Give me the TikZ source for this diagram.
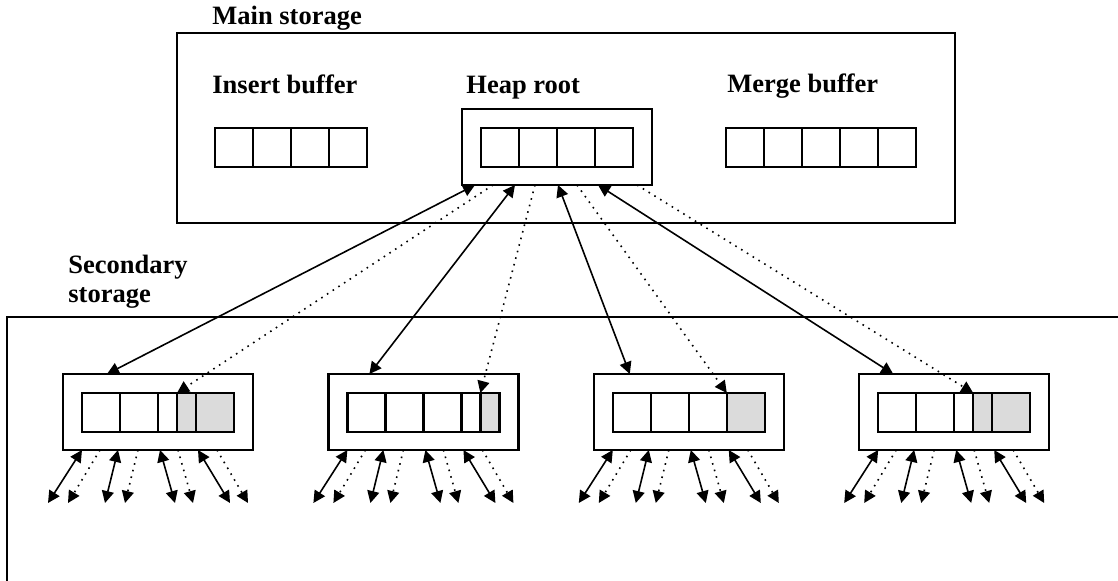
\documentclass[tikz,border=0pt]{standalone}
\usepackage{fontspec}
\setmainfont{Liberation Serif}
\usetikzlibrary{arrows.meta,calc,positioning}

\tikzset{
  store/.style={draw,line width=1.1pt,inner sep=0pt,outer sep=0pt},
  page/.style={store,minimum width=95pt,minimum height=38pt},
  slot/.style={store,anchor=north west,minimum width=19pt,minimum height=19.5pt},
  caption/.style={font=\bfseries\fontsize{13.25}{14.5}\selectfont,inner sep=0pt,anchor=base west},
  link/.style={line width=0.8pt,{Triangle[length=6pt,width=6pt]}-{Triangle[length=6pt,width=6pt]}},
  hint/.style={line width=0.8pt,dash pattern=on 0.8pt off 2.6pt,-{Triangle[length=6pt,width=6pt]}}
}

\begin{document}
\begin{tikzpicture}[x=0.5pt,y=-0.5pt]
	\useasboundingbox (0,0) rectangle (1118,581);

	% main storage with its three buffers
	\node[caption] (mainlbl) at (212,25) {Main storage};
	\node[store,minimum width=389pt,minimum height=95pt] (main) at (566,128) {};
	\node[caption] (inslbl) at (212,94) {Insert buffer};
	\node[caption] (rootlbl) at (466,94) {Heap root};
	\node[caption] (mrglbl) at (727,93) {Merge buffer};
	\foreach \i in {0,...,3} \node[slot] (ins\i) at (215+38*\i,128) {};
	\node[page] (root) at (557,147) {};
	\foreach \i in {0,...,3} \node[slot] (top\i) at (481+38*\i,128) {};
	\foreach \i in {0,...,4} \node[slot] (mrg\i) at (726+38*\i,128) {};

	% secondary storage
	\node[caption,anchor=north west,align=left] (seclbl) at (68,255) {Secondary\\storage};
	\draw[line width=1.1pt] (1118,317) -- (7,317) -- (7,581);

	% child pages, grey = part already read
	\foreach \b/\cells in {
		1/{0/38/white,38/38/white,76/19/white,95/19/black!14,114/38/black!14},
		2/{0/38/white,38/38/white,76/38/white,114/19/white,133/19/black!14},
		3/{0/38/white,38/38/white,76/38/white,114/38/black!14},
		4/{0/38/white,38/38/white,76/19/white,95/19/black!14,114/38/black!14}} {
		\node[page] (kid\b) at (158+265.4*\b-265.4,412) {};
		\foreach \o/\w/\f [count=\n] in \cells
			\node[slot,minimum width=\w*0.5pt,fill=\f] (kid\b-\n) at (82+265.4*\b-265.4+\o,393) {};
	}

	% root <-> children
	\foreach \b/\s/\e/\d/\g in {1/13/44/31/4, 2/53/41/73/5, 3/96/36/115/4, 4/136/34/175/4} {
		\draw[link] ($(root.south west)+(\s,0)$) -- ($(kid\b.north west)+(\e,0)$);
		\draw[hint] ($(root.south west)+(\d,0)$) -- (kid\b-\g.north west);
	}

	% fan out below each child
	\foreach \b in {1,...,4}
		\foreach \t/\e/\k in {19/-15/link,37/5/hint,55/42/link,75/62/hint,97/112/link,115/130/hint,135/167/link,154/185/hint}
			\draw[\k] ($(kid\b.south west)+(\t,0)$) -- ($(kid\b.south west)+(\e,53)$);
\end{tikzpicture}
\end{document}
